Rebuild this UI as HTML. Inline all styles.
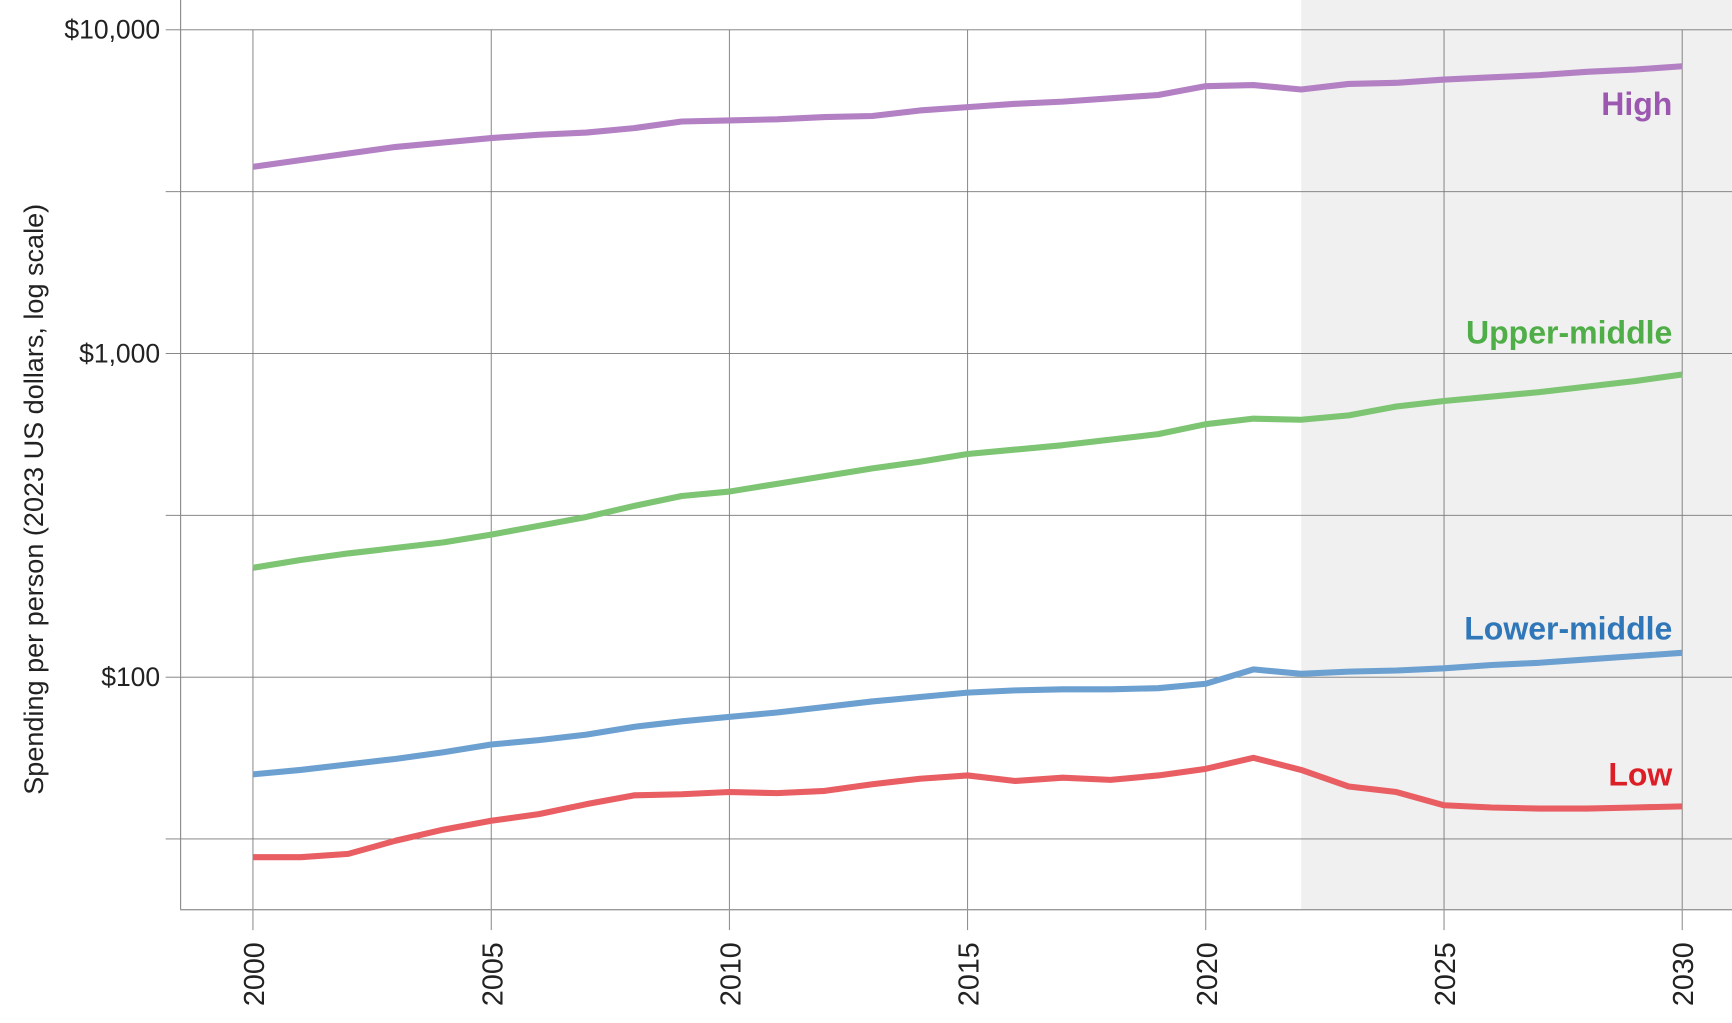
<!DOCTYPE html>
<html><head><meta charset="utf-8"><style>
html,body{margin:0;padding:0;background:#fff;}
svg{display:block;}
text{font-family:"Liberation Sans",sans-serif;}
</style></head><body>
<svg width="1732" height="1023" viewBox="0 0 1568 926.1" preserveAspectRatio="none">
<rect x="1178" y="0" width="390" height="823" fill="#f0f0f0"/>
<g stroke="#777" stroke-width="0.8">
<line x1="150" y1="27" x2="1568" y2="27"/>
<line x1="150" y1="173.5" x2="1568" y2="173.5"/>
<line x1="150" y1="320" x2="1568" y2="320"/>
<line x1="150" y1="466.5" x2="1568" y2="466.5"/>
<line x1="150" y1="613" x2="1568" y2="613"/>
<line x1="150" y1="759.5" x2="1568" y2="759.5"/>
<line x1="229" y1="27" x2="229" y2="842"/>
<line x1="444.7" y1="27" x2="444.7" y2="842"/>
<line x1="660.3" y1="27" x2="660.3" y2="842"/>
<line x1="876" y1="27" x2="876" y2="842"/>
<line x1="1091.6" y1="27" x2="1091.6" y2="842"/>
<line x1="1307.3" y1="27" x2="1307.3" y2="842"/>
<line x1="1522.9" y1="27" x2="1522.9" y2="842"/>
</g>
<line x1="163.5" y1="0" x2="163.5" y2="823" stroke="#888" stroke-width="1"/>
<line x1="163" y1="823.5" x2="1568" y2="823.5" stroke="#999" stroke-width="1.2"/>
<g fill="none" stroke-width="5.5" stroke-linejoin="round">
<polyline stroke="#b380c4" points="229,151 272.1,145 315.3,139 358.4,133 401.5,129 444.7,125 487.8,122 530.9,120 574,116 617.2,110 660.3,109 703.4,108 746.6,106 789.7,105 832.8,100 876,97 919.1,94 962.2,92 1005.3,89 1048.5,86 1091.6,78 1134.7,77 1177.9,81 1221,76 1264.1,75 1307.3,72 1350.4,70 1393.5,68 1436.6,65 1479.8,63 1522.9,60"/>
<polyline stroke="#7dc473" points="229,514 272.1,507 315.3,501 358.4,496 401.5,491 444.7,484 487.8,476 530.9,468 574,458 617.2,449 660.3,445 703.4,438 746.6,431 789.7,424 832.8,418 876,411 919.1,407 962.2,403 1005.3,398 1048.5,393 1091.6,384 1134.7,379 1177.9,380 1221,376 1264.1,368 1307.3,363 1350.4,359 1393.5,355 1436.6,350 1479.8,345 1522.9,339"/>
<polyline stroke="#6ca0d0" points="229,701 272.1,697 315.3,692 358.4,687 401.5,681 444.7,674 487.8,670 530.9,665 574,658 617.2,653 660.3,649 703.4,645 746.6,640 789.7,635 832.8,631 876,627 919.1,625 962.2,624 1005.3,624 1048.5,623 1091.6,619 1134.7,606 1177.9,610 1221,608 1264.1,607 1307.3,605 1350.4,602 1393.5,600 1436.6,597 1479.8,594 1522.9,591"/>
<polyline stroke="#e85e62" points="229,776 272.1,776 315.3,773 358.4,761 401.5,751 444.7,743 487.8,737 530.9,728 574,720 617.2,719 660.3,717 703.4,718 746.6,716 789.7,710 832.8,705 876,702 919.1,707 962.2,704 1005.3,706 1048.5,702 1091.6,696 1134.7,686 1177.9,697 1221,712 1264.1,717 1307.3,729 1350.4,731 1393.5,732 1436.6,732 1479.8,731 1522.9,730"/>
</g>
<g font-size="29" font-weight="bold" text-anchor="end">
<text x="1514" y="104" fill="#9c58b0">High</text>
<text x="1514" y="311" fill="#4fae47">Upper-middle</text>
<text x="1514" y="579" fill="#2f77b8">Lower-middle</text>
<text x="1514" y="711" fill="#dc1f26">Low</text>
</g>
<g font-size="24" fill="#222" text-anchor="end">
<text x="145" y="35">$10,000</text>
<text x="145" y="328">$1,000</text>
<text x="145" y="621">$100</text>
</g>
<text transform="translate(39,452) rotate(-90)" font-size="24.5" fill="#222" text-anchor="middle">Spending per person (2023 US dollars, log scale)</text>
<g font-size="26" fill="#222" text-anchor="end">
<text transform="translate(239,853) rotate(-90)">2000</text>
<text transform="translate(454.7,853) rotate(-90)">2005</text>
<text transform="translate(670.3,853) rotate(-90)">2010</text>
<text transform="translate(886,853) rotate(-90)">2015</text>
<text transform="translate(1101.6,853) rotate(-90)">2020</text>
<text transform="translate(1317.3,853) rotate(-90)">2025</text>
<text transform="translate(1532.9,853) rotate(-90)">2030</text>
</g>
</svg>
</body></html>
